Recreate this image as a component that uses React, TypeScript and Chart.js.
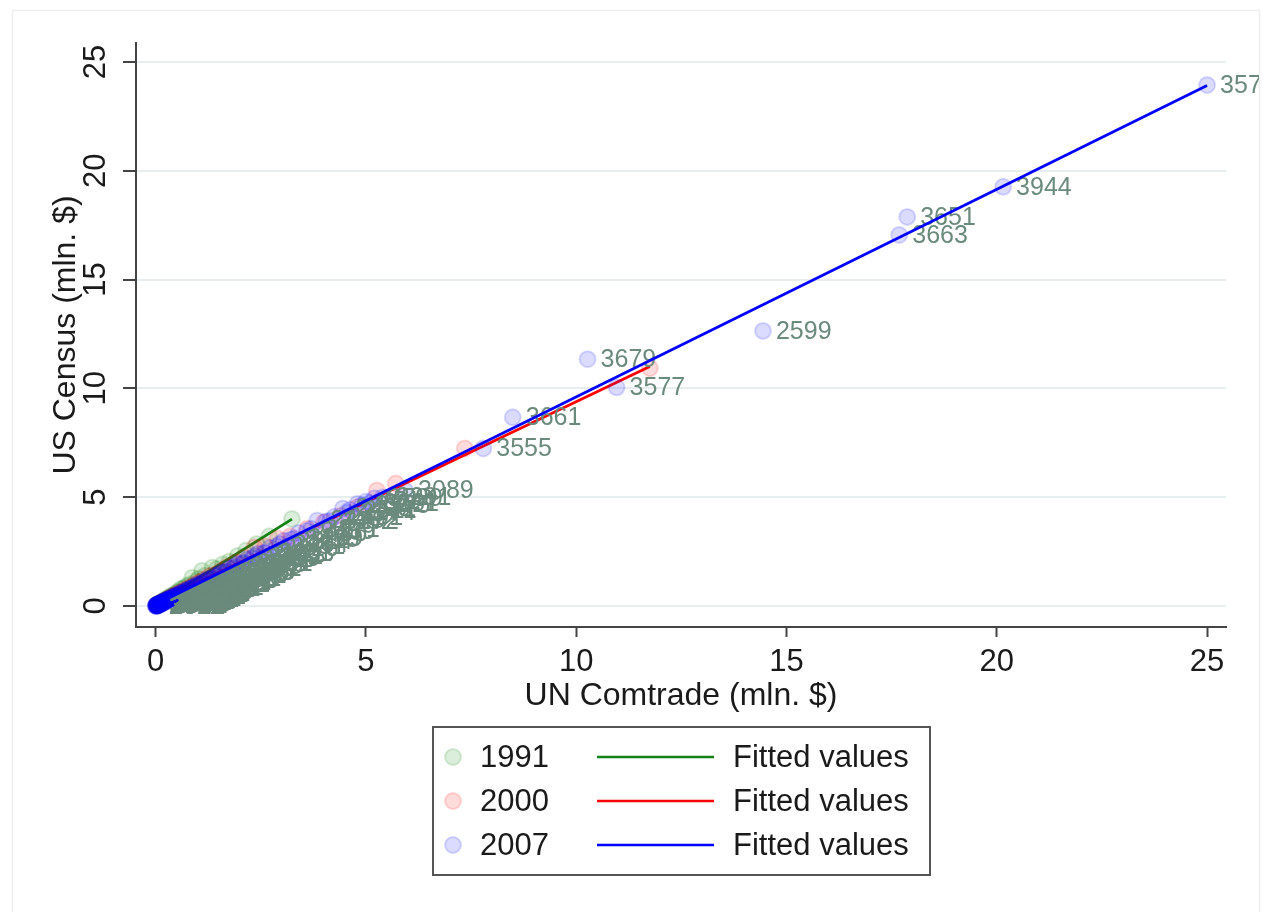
import React, { useEffect, useRef } from "react";
import { Chart, registerables } from "chart.js";

Chart.register(...registerables);

// ---------- data (mln. $) ----------
const un1991 = [
  0.02, 0.03, 0.05, 0.06, 0.08, 0.1, 0.12, 0.14, 0.17, 0.2,
  0.22, 0.25, 0.28, 0.31, 0.35, 0.4, 0.44, 0.5, 0.55, 0.6,
  0.66, 0.72, 0.8, 0.87, 0.95, 1.02, 1.1, 1.18, 1.35, 1.45,
  1.6, 1.75, 1.95, 2.15, 2.4, 2.7, 3.24,
];
const census1991 = [
  0.02, 0.05, 0.04, 0.09, 0.07, 0.13, 0.11, 0.18, 0.2, 0.22,
  0.29, 0.27, 0.36, 0.33, 0.45, 0.48, 0.52, 0.63, 0.66, 0.78,
  0.8, 0.91, 0.98, 1.3, 1.12, 1.25, 1.62, 1.4, 1.77, 1.7,
  1.92, 2.05, 2.3, 2.55, 2.85, 3.2, 4.0,
];

const un2000 = [
  0.02, 0.04, 0.06, 0.08, 0.1, 0.13, 0.16, 0.19, 0.22, 0.26,
  0.3, 0.34, 0.39, 0.44, 0.5, 0.56, 0.62, 0.7, 0.78, 0.86,
  0.95, 1.05, 1.15, 1.28, 1.4, 1.55, 1.7, 1.9, 2.1, 2.35,
  2.6, 2.9, 3.2, 3.6, 4.0, 4.4, 4.8, 5.26, 5.71, 7.35, 11.75,
];
const census2000 = [
  0.03, 0.05, 0.06, 0.1, 0.11, 0.14, 0.17, 0.22, 0.23, 0.27,
  0.33, 0.36, 0.42, 0.46, 0.55, 0.58, 0.66, 0.74, 0.83, 0.9,
  1.02, 1.1, 1.22, 1.38, 1.45, 1.62, 1.8, 2.0, 2.22, 2.7,
  2.75, 3.1, 3.2, 3.55, 3.85, 4.15, 4.55, 5.31, 5.63, 7.24, 10.93,
];

const un2007 = [
  0.01, 0.02, 0.03, 0.05, 0.07, 0.09, 0.11, 0.13, 0.15, 0.18,
  0.22, 0.25, 0.29, 0.33, 0.37, 0.41, 0.46, 0.52, 0.6, 0.68,
  0.77, 0.86, 0.97, 1.09, 1.22, 1.36, 1.52, 1.69, 1.88, 2.1,
  2.35, 2.62, 2.95, 3.3, 3.7, 4.15, 4.55, 4.9, 5.1, 5.4,
  0.0, 0.01, 0.01, 0.02, 0.02, 0.03, 0.03, 0.04, 0.04, 0.05,
  0.05, 0.06, 0.06, 0.07, 0.08, 0.08, 0.09, 0.1, 0.1, 0.11,
  0.12, 0.13, 0.14, 0.15, 0.16, 0.17, 0.18, 0.2, 0.21, 0.23,
  0.24, 0.26, 0.28, 0.3, 0.32, 0.34, 0.36, 0.39, 0.42, 0.45,
  0.48, 0.51, 0.55, 0.58, 0.62, 0.66, 0.7, 0.74, 0.79, 0.84,
  0.89, 0.94, 1.0, 1.06, 1.12, 1.18, 1.25, 1.32, 1.4, 1.48,
  1.56, 1.65, 1.74, 1.84, 1.95, 2.06, 2.18, 2.3, 2.43, 2.57,
  2.72, 2.88, 3.05, 3.22, 3.4, 3.6, 3.84, 4.05, 4.25, 4.45,
  4.62, 4.8, 5.0, 5.2, 5.93, 7.79, 8.49, 10.27, 10.96, 14.44,
  17.68, 17.87, 20.15, 25.0,
];
const census2007 = [
  0.02, 0.04, 0.02, 0.06, 0.09, 0.07, 0.13, 0.1, 0.17, 0.15,
  0.24, 0.22, 0.3, 0.28, 0.38, 0.36, 0.47, 0.46, 0.6, 0.62,
  0.76, 0.8, 0.95, 1.02, 1.2, 1.26, 1.48, 1.58, 1.82, 1.98,
  2.3, 2.45, 2.85, 3.1, 3.55, 3.92, 4.3, 4.62, 4.75, 5.0,
  0.01, 0.0, 0.03, 0.01, 0.04, 0.02, 0.05, 0.03, 0.06, 0.04,
  0.07, 0.05, 0.08, 0.07, 0.06, 0.09, 0.1, 0.08, 0.12, 0.11,
  0.1, 0.14, 0.12, 0.16, 0.14, 0.18, 0.16, 0.21, 0.19, 0.24,
  0.22, 0.27, 0.25, 0.31, 0.29, 0.35, 0.33, 0.4, 0.38, 0.45,
  0.44, 0.5, 0.52, 0.54, 0.61, 0.62, 0.7, 0.69, 0.78, 0.8,
  0.88, 0.88, 0.99, 1.0, 1.1, 1.12, 1.24, 1.25, 1.39, 1.4,
  1.55, 1.56, 1.72, 1.75, 1.93, 1.96, 2.15, 2.19, 2.4, 2.44,
  2.68, 2.74, 3.0, 3.06, 3.35, 3.45, 3.93, 3.88, 4.1, 4.48,
  4.42, 4.7, 4.8, 4.95, 5.31, 7.24, 8.67, 11.34, 10.05, 12.64,
  17.05, 17.88, 19.26, 23.94,
];
const codes2007 = [
  "3052", "3081", "3082", "3083", "3084", "3085", "3086", "3087", "3088", "3111",
  "3131", "3142", "3143", "3144", "3149", "3151", "3161", "3171", "3172", "3199",
  "3211", "3221", "3229", "3231", "3241", "3251", "3253", "3255", "3259", "3261",
  "3262", "3263", "3264", "3269", "3271", "3272", "3274", "3275", "3281", "3291",
  "2011", "2013", "2015", "2021", "2022", "2026", "2032", "2033", "2034", "2035",
  "2037", "2041", "2043", "2046", "2051", "2052", "2064", "2066", "2067", "2068",
  "2079", "2082", "2084", "2085", "2086", "2087", "2091", "2092", "2095", "2098",
  "2099", "2111", "2121", "2131", "2211", "2221", "2231", "2241", "2253", "2257",
  "2258", "2261", "2273", "2281", "2282", "2295", "2296", "2297", "2298", "2299",
  "2311", "2321", "2325", "2329", "2331", "2337", "2339", "2353", "2369", "2381",
  "2385", "2386", "2389", "2392", "2393", "2394", "2396", "2399", "2411", "2421",
  "2426", "2431", "3214", "2435", "2436", "2439", "2449", "2452", "2491", "2499",
  "2511", "2512", "2514", "3599", "3089", "3555", "3661", "3679", "3577", "2599",
  "3663", "3651", "3944", "3571",
];

// fitted values (linear fits): [x at start, x at end], [y at start, y at end]
const fitX1991 = [0.02, 3.24];
const fitY1991 = [0.09, 3.99];
const fitX2000 = [0.02, 11.75];
const fitY2000 = [0.17, 11.0];
const fitX2007 = [0.0, 25.0];
const fitY2007 = [0.07, 23.92];

const xTicks = [0, 5, 10, 15, 20, 25];
const yTicks = [0, 5, 10, 15, 20, 25];
const years = ["1991", "2000", "2007"];
const fittedLabel = "Fitted values";
const xTitle = "UN Comtrade (mln. $)";
const yTitle = "US Census (mln. $)";

// ---------- styles ----------
const FONT = "'Liberation Sans', Arial, Helvetica, sans-serif";
const LABEL_COLOR = "rgb(106,138,124)";
const TEXT_COLOR = "#1a1a1a";
const AXIS_COLOR = "#444444";
const GRID_COLOR = "#e6eef0";
const GREEN = "rgb(20,130,20)";
const RED = "rgb(255,0,0)";
const BLUE = "rgb(0,0,255)";
const GREEN_T = "rgba(0,128,0,0.14)";
const RED_T = "rgba(255,0,0,0.14)";
const BLUE_T = "rgba(0,0,255,0.14)";

const pts = (xs: number[], ys: number[]) => xs.map((x, i) => ({ x, y: ys[i] }));

export default function App() {
  const ref = useRef<HTMLCanvasElement>(null);

  useEffect(() => {
    const canvas = ref.current;
    if (!canvas) return;

    const bgPlugin = {
      id: "bgFrame",
      beforeDraw(chart: any) {
        const ctx = chart.ctx;
        ctx.save();
        ctx.fillStyle = "#ffffff";
        ctx.fillRect(0, 0, chart.width, chart.height);
        ctx.strokeStyle = "#efefef";
        ctx.lineWidth = 1.5;
        ctx.strokeRect(12.5, 10.5, 1247, 910);
        ctx.restore();
      },
    };

    const labelPlugin = {
      id: "pointCodes",
      afterDatasetDraw(chart: any, args: any) {
        const ds = chart.data.datasets[args.index];
        if (!ds.pointCodes) return;
        const ctx = chart.ctx;
        ctx.save();
        ctx.beginPath();
        ctx.rect(0, 0, 1259, chart.height);
        ctx.clip();
        ctx.font = `25px ${FONT}`;
        ctx.fillStyle = LABEL_COLOR;
        ctx.textAlign = "left";
        ctx.textBaseline = "middle";
        args.meta.data.forEach((el: any, i: number) => {
          ctx.fillText(ds.pointCodes[i], el.x + 13, el.y + 1);
        });
        ctx.restore();
      },
    };

    const legendPlugin = {
      id: "stataLegend",
      afterDraw(chart: any) {
        const ctx = chart.ctx;
        const ds = chart.data.datasets;
        ctx.save();
        ctx.strokeStyle = "#555555";
        ctx.lineWidth = 2;
        ctx.strokeRect(433, 727, 497, 148);
        const rows = [757, 801, 845];
        const pairs = [
          [ds[0], ds[1]],
          [ds[2], ds[3]],
          [ds[4], ds[5]],
        ];
        ctx.font = `31px ${FONT}`;
        ctx.textBaseline = "middle";
        ctx.textAlign = "left";
        pairs.forEach(([sc, fit], i) => {
          const y = rows[i];
          ctx.beginPath();
          ctx.arc(453, y, 8, 0, Math.PI * 2);
          ctx.fillStyle = sc.backgroundColor;
          ctx.fill();
          ctx.strokeStyle = sc.borderColor;
          ctx.lineWidth = 2;
          ctx.stroke();
          ctx.fillStyle = TEXT_COLOR;
          ctx.fillText(sc.label, 480, y + 1);
          ctx.beginPath();
          ctx.moveTo(597, y);
          ctx.lineTo(714, y);
          ctx.strokeStyle = fit.borderColor;
          ctx.lineWidth = 2.5;
          ctx.stroke();
          ctx.fillStyle = TEXT_COLOR;
          ctx.fillText(fit.label, 733, y + 1);
        });
        ctx.restore();
      },
    };

    const scatterDs = (label: string, xs: number[], ys: number[], fill: string, order: number, codes?: string[]) => ({
      label,
      data: pts(xs, ys),
      backgroundColor: fill,
      borderColor: fill,
      borderWidth: 2,
      pointRadius: 8,
      pointHoverRadius: 8,
      showLine: false,
      order,
      pointCodes: codes,
    });
    const fitDs = (xs: number[], ys: number[], color: string, order: number) => ({
      label: fittedLabel,
      data: pts(xs, ys),
      borderColor: color,
      backgroundColor: color,
      borderWidth: 2.8,
      pointRadius: 0,
      showLine: true,
      fill: false,
      tension: 0,
      order,
    });

    const chart = new Chart(canvas, {
      type: "scatter",
      data: {
        datasets: [
          scatterDs(years[0], un1991, census1991, GREEN_T, 6),
          fitDs(fitX1991, fitY1991, GREEN, 5),
          scatterDs(years[1], un2000, census2000, RED_T, 4),
          fitDs(fitX2000, fitY2000, RED, 3),
          scatterDs(years[2], un2007, census2007, BLUE_T, 2, codes2007),
          fitDs(fitX2007, fitY2007, BLUE, 1),
        ] as any,
      },
      options: {
        animation: false,
        responsive: false,
        devicePixelRatio: 1,
        events: [],
        layout: { padding: { left: 0, right: 37, top: 43, bottom: 197 } },
        plugins: {
          legend: { display: false },
          tooltip: { enabled: false },
        },
        scales: {
          x: {
            type: "linear",
            position: "bottom",
            min: -0.468,
            max: 25.45,
            afterBuildTicks: (s: any) => {
              s.ticks = xTicks.map((v) => ({ value: v }));
            },
            afterFit: (s: any) => {
              s.height = 88;
            },
            grid: {
              drawOnChartArea: false,
              drawTicks: true,
              tickLength: 10,
              tickColor: AXIS_COLOR,
              tickWidth: 2,
            },
            border: { display: true, color: AXIS_COLOR, width: 2 },
            ticks: {
              font: { family: FONT, size: 31 },
              color: TEXT_COLOR,
              padding: 7,
              minRotation: 0,
              maxRotation: 0,
              autoSkip: false,
            },
            title: {
              display: true,
              text: xTitle,
              font: { family: FONT, size: 32 },
              color: TEXT_COLOR,
              padding: { top: 0, bottom: 0 },
            },
          },
          y: {
            type: "linear",
            position: "left",
            min: -0.965,
            max: 25.87,
            afterBuildTicks: (s: any) => {
              s.ticks = yTicks.map((v) => ({ value: v }));
            },
            afterFit: (s: any) => {
              s.width = 136;
            },
            grid: {
              color: GRID_COLOR,
              lineWidth: 2,
              drawTicks: true,
              tickLength: 13,
              tickColor: AXIS_COLOR,
              tickWidth: 2,
            },
            border: { display: true, color: AXIS_COLOR, width: 2 },
            ticks: {
              font: { family: FONT, size: 31 },
              color: TEXT_COLOR,
              padding: 9,
              minRotation: 90,
              maxRotation: 90,
              crossAlign: "center",
              autoSkip: false,
            },
            title: {
              display: true,
              text: yTitle,
              font: { family: FONT, size: 32 },
              color: TEXT_COLOR,
              padding: { top: 47, bottom: 0 },
            },
          },
        },
      } as any,
      plugins: [bgPlugin, labelPlugin, legendPlugin],
    });

    return () => chart.destroy();
  }, []);

  return (
    <div style={{ position: "absolute", left: 0, top: 0, width: 1263, height: 912, background: "#fff" }}>
      <canvas ref={ref} width={1263} height={912} style={{ display: "block" }} />
    </div>
  );
}
